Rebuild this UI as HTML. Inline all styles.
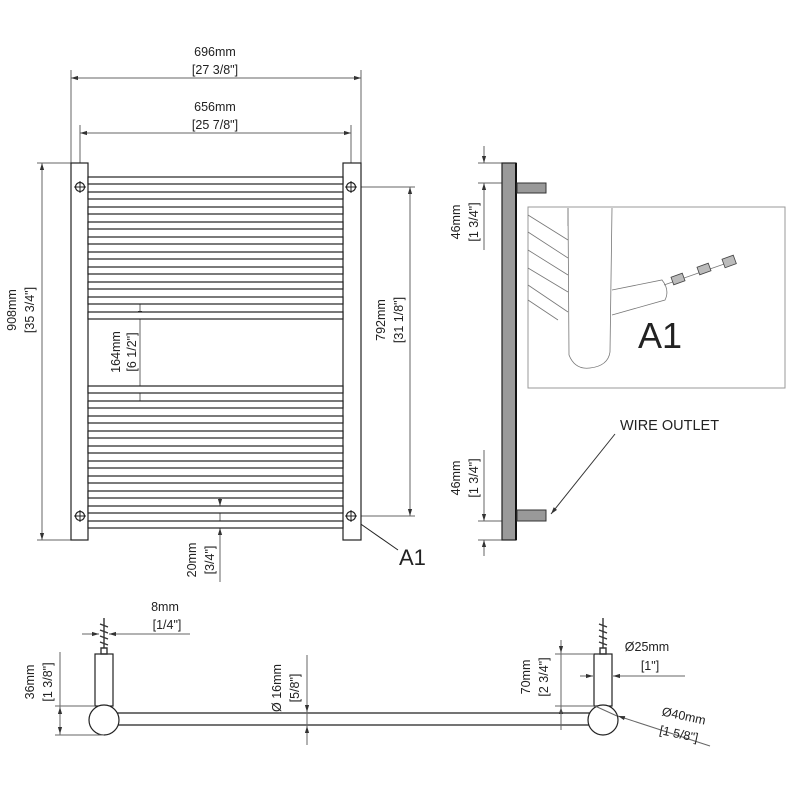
<!DOCTYPE html>
<html><head><meta charset="utf-8"><style>
html,body{margin:0;padding:0;background:#fff}
svg{display:block}
text{font-family:"Liberation Sans",sans-serif;fill:#222}
</style></head><body>
<svg width="790" height="790" viewBox="0 0 790 790" xmlns="http://www.w3.org/2000/svg">
<defs>
<marker id="a" viewBox="0 0 10 10" refX="10" refY="5" markerWidth="7" markerHeight="7" orient="auto-start-reverse"><path d="M0,2 L10,5 L0,8 z" fill="#333"/></marker>
</defs>
<g stroke="#666" stroke-width="1" fill="none">
<!-- top dims -->
<line x1="71" y1="70" x2="71" y2="163"/><line x1="361" y1="70" x2="361" y2="163"/>
<line x1="71" y1="78" x2="361" y2="78" marker-start="url(#a)" marker-end="url(#a)"/>
<line x1="80" y1="125" x2="80" y2="182"/><line x1="351" y1="125" x2="351" y2="182"/>
<line x1="80" y1="133" x2="351" y2="133" marker-start="url(#a)" marker-end="url(#a)"/>
<!-- 908 -->
<line x1="37" y1="163" x2="71" y2="163"/><line x1="37" y1="540" x2="71" y2="540"/>
<line x1="42" y1="163" x2="42" y2="540" marker-start="url(#a)" marker-end="url(#a)"/>
<!-- 792 -->
<line x1="356" y1="187" x2="415" y2="187"/><line x1="356" y1="516" x2="415" y2="516"/>
<line x1="410" y1="187" x2="410" y2="516" marker-start="url(#a)" marker-end="url(#a)"/>
<!-- 164 -->
<line x1="140" y1="298" x2="140" y2="405"/>
<line x1="140" y1="305" x2="140" y2="318" marker-end="url(#a)"/>
<line x1="140" y1="398" x2="140" y2="386" marker-end="url(#a)"/>
<!-- 20 -->
<line x1="220" y1="492" x2="220" y2="582"/>
<line x1="220" y1="498" x2="220" y2="506" marker-end="url(#a)"/>
<line x1="220" y1="535" x2="220" y2="528" marker-end="url(#a)"/>
<!-- A1 leader -->
<line x1="355" y1="520" x2="398" y2="550" stroke="#222"/>
</g>
<!-- main front view -->
<g stroke="#222" stroke-width="1.2" fill="#fff">
<rect x="71" y="163" width="17" height="377"/>
<rect x="343" y="163" width="18" height="377"/>
<g id="rails">
<rect x="88" y="177" width="255" height="7"/><rect x="88" y="192" width="255" height="7"/>
<rect x="88" y="207" width="255" height="7"/><rect x="88" y="222" width="255" height="7"/>
<rect x="88" y="237" width="255" height="7"/><rect x="88" y="252" width="255" height="7"/>
<rect x="88" y="267" width="255" height="7"/><rect x="88" y="282" width="255" height="7"/>
<rect x="88" y="297" width="255" height="7"/><rect x="88" y="312" width="255" height="7"/>
</g>
<rect x="88" y="386" width="255" height="7"/><rect x="88" y="401" width="255" height="7"/>
<rect x="88" y="416" width="255" height="7"/><rect x="88" y="431" width="255" height="7"/>
<rect x="88" y="446" width="255" height="7"/><rect x="88" y="461" width="255" height="7"/>
<rect x="88" y="476" width="255" height="7"/><rect x="88" y="491" width="255" height="7"/>
<rect x="88" y="506" width="255" height="7"/><rect x="88" y="521" width="255" height="7"/>
<circle cx="80" cy="187" r="4.5"/><circle cx="351" cy="187" r="4.5"/>
<circle cx="80" cy="516" r="4.5"/><circle cx="351" cy="516" r="4.5"/>
</g>
<g stroke="#222" stroke-width="1">
<path d="M74 187h12M80 181v12M345 187h12M351 181v12M74 516h12M80 510v12M345 516h12M351 510v12"/>
</g>
<g font-size="12.5" text-anchor="middle">
<text x="215" y="56">696mm</text><text x="215" y="74">[27 3/8"]</text>
<text x="215" y="111">656mm</text><text x="215" y="129">[25 7/8"]</text>
<text transform="translate(16,310) rotate(-90)">908mm</text>
<text transform="translate(34,310) rotate(-90)">[35 3/4"]</text>
<text transform="translate(385,320) rotate(-90)">792mm</text>
<text transform="translate(403,320) rotate(-90)">[31 1/8"]</text>
<text transform="translate(120,352) rotate(-90)">164mm</text>
<text transform="translate(136,352) rotate(-90)">[6 1/2"]</text>
<text transform="translate(196,560) rotate(-90)">20mm</text>
<text transform="translate(214,560) rotate(-90)">[3/4"]</text>
<text transform="translate(460,222) rotate(-90)">46mm</text>
<text transform="translate(478,222) rotate(-90)">[1 3/4"]</text>
<text transform="translate(460,478) rotate(-90)">46mm</text>
<text transform="translate(478,478) rotate(-90)">[1 3/4"]</text>
</g>
<text x="399" y="565" font-size="22">A1</text>
<!-- side view -->
<g stroke="#666" stroke-width="1" fill="none">
<line x1="478" y1="163" x2="502" y2="163"/><line x1="478" y1="183" x2="516" y2="183"/>
<line x1="484" y1="146" x2="484" y2="163" marker-end="url(#a)"/>
<line x1="484" y1="200" x2="484" y2="183" marker-end="url(#a)"/>
<line x1="484" y1="200" x2="484" y2="250"/>
<line x1="478" y1="521" x2="502" y2="521"/><line x1="478" y1="540" x2="502" y2="540"/>
<line x1="484" y1="450" x2="484" y2="521" marker-end="url(#a)"/>
<line x1="484" y1="556" x2="484" y2="540" marker-end="url(#a)"/>
</g>
<rect x="502" y="163" width="14" height="377" fill="#9a9a9a" stroke="#222" stroke-width="1.2"/>
<line x1="516" y1="163" x2="516" y2="540" stroke="#111" stroke-width="2"/>
<rect x="517" y="183" width="29" height="10" fill="#999" stroke="#333"/>
<rect x="517" y="510" width="29" height="11" fill="#999" stroke="#333"/>
<!-- detail -->
<rect x="528" y="207" width="257" height="181" fill="#fff" stroke="#999"/>
<g stroke="#777" stroke-width="0.8" fill="none">
<path d="M568 208 L568 226 M528 215 L568 240 M528 232 L568 258 M528 250 L568 275 M528 268 L568 292 M528 285 L568 312 M528 300 L558 320"/>
<path d="M568 208 L569 355 Q575 370 590 368 Q608 366 610 352 L612 208"/>
<path d="M612 290 L662 280 Q670 290 665 300 L612 315"/>
<path d="M664 285 L730 262"/>
</g>
<g fill="#bbb" stroke="#444" stroke-width="0.8">
<rect x="672" y="275" width="12" height="8" transform="rotate(-20 678 279)"/>
<rect x="698" y="265" width="12" height="8" transform="rotate(-20 704 269)"/>
<rect x="723" y="257" width="12" height="9" transform="rotate(-20 729 261)"/>
</g>
<text x="638" y="348" font-size="36">A1</text>
<text x="620" y="430" font-size="14.5">WIRE OUTLET</text>
<line x1="615" y1="434" x2="551" y2="514" stroke="#333" marker-end="url(#a)"/>
<!-- bottom view -->
<g stroke="#222" stroke-width="1.2" fill="#fff">
<line x1="115" y1="713" x2="590" y2="713"/><line x1="115" y1="725" x2="590" y2="725"/>
<rect x="95" y="654" width="18" height="52"/>
<circle cx="104" cy="720" r="15"/>
<rect x="594" y="654" width="18" height="52"/>
<circle cx="603" cy="720" r="15"/>
</g>
<g stroke="#333" stroke-width="1.4" fill="none">
<path d="M104 618 v30 M100 624 l8 3 M100 630 l8 3 M100 636 l8 3 M100 642 l8 3 M101 648 h6 v6 h-6z"/>
<path d="M603 618 v30 M599 624 l8 3 M599 630 l8 3 M599 636 l8 3 M599 642 l8 3 M600 648 h6 v6 h-6z"/>
</g>
<g stroke="#666" stroke-width="1" fill="none">
<line x1="82" y1="634" x2="99" y2="634" marker-end="url(#a)"/>
<line x1="190" y1="634" x2="109" y2="634" marker-end="url(#a)"/>
<line x1="55" y1="706" x2="95" y2="706"/><line x1="55" y1="735" x2="104" y2="735"/>
<line x1="60" y1="652" x2="60" y2="735"/>
<line x1="60" y1="720" x2="60" y2="707" marker-end="url(#a)"/>
<line x1="60" y1="722" x2="60" y2="734" marker-end="url(#a)"/>
<line x1="307" y1="655" x2="307" y2="745"/>
<line x1="307" y1="700" x2="307" y2="712" marker-end="url(#a)"/>
<line x1="307" y1="738" x2="307" y2="726" marker-end="url(#a)"/>
<line x1="555" y1="654" x2="594" y2="654"/><line x1="555" y1="706" x2="594" y2="706"/>
<line x1="561" y1="640" x2="561" y2="653" marker-end="url(#a)"/>
<line x1="561" y1="690" x2="561" y2="707"/>
<line x1="561" y1="725" x2="561" y2="707" marker-end="url(#a)"/>
<line x1="561" y1="730" x2="561" y2="653"/>
<line x1="580" y1="676" x2="593" y2="676" marker-end="url(#a)"/>
<line x1="685" y1="676" x2="613" y2="676" marker-end="url(#a)"/>
<line x1="595" y1="706" x2="617" y2="716"/>
<line x1="710" y1="746" x2="618" y2="716" marker-end="url(#a)"/>
</g>
<g font-size="12.5" text-anchor="middle">
<text x="165" y="611">8mm</text><text x="167" y="629">[1/4"]</text>
<text transform="translate(34,682) rotate(-90)">36mm</text>
<text transform="translate(52,682) rotate(-90)">[1 3/8"]</text>
<text transform="translate(281,688) rotate(-90)">Ø 16mm</text>
<text transform="translate(299,688) rotate(-90)">[5/8"]</text>
<text transform="translate(530,677) rotate(-90)">70mm</text>
<text transform="translate(548,677) rotate(-90)">[2 3/4"]</text>
<text x="647" y="651">Ø25mm</text><text x="650" y="670">[1"]</text>
<text transform="translate(683,720) rotate(12)">Ø40mm</text>
<text transform="translate(678,738) rotate(12)">[1 5/8"]</text>
</g>
</svg>
</body></html>
